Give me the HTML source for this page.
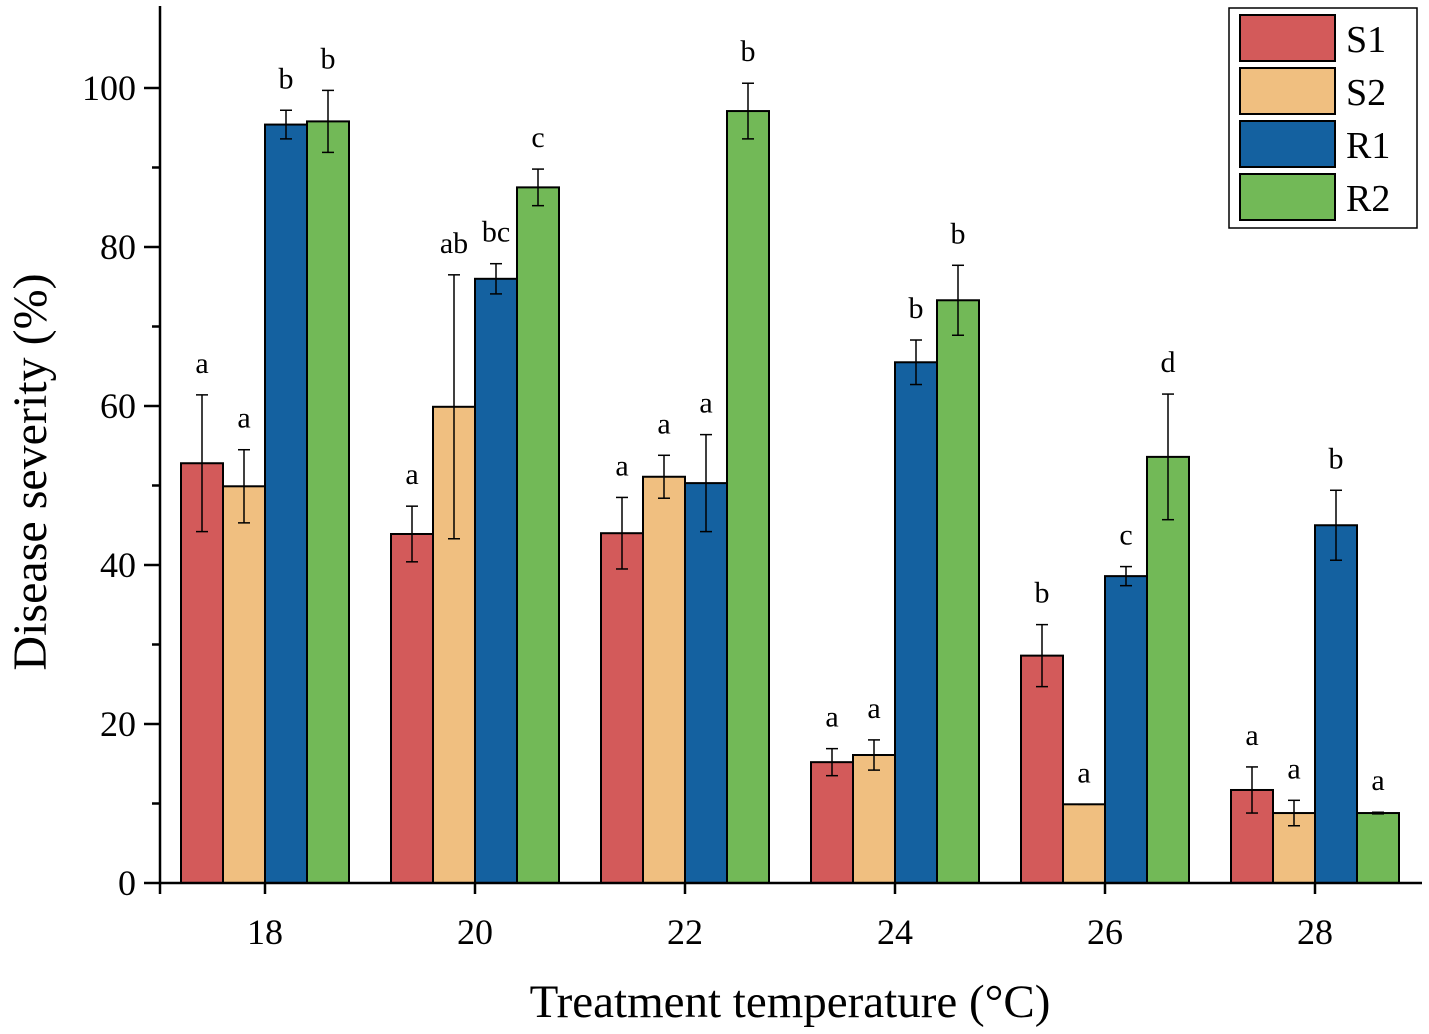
<!DOCTYPE html>
<html><head><meta charset="utf-8"><style>body{margin:0;background:#fff}svg{display:block}text{font-family:"Liberation Serif",serif;fill:#000}</style></head>
<body>
<svg id="chart" width="1429" height="1034">
<g id="bars"></g>
<g id="axes"></g>
</svg>
<script>
const categories=["18","20","22","24","26","28"];
const seriesNames=["S1","S2","R1","R2"];
const seriesColors=["#d35a5a","#f0bf80","#1461a0","#72b957"];
const S1=[52.8,43.9,44.0,15.2,28.6,11.7];
const S2=[49.9,59.9,51.1,16.1,9.9,8.8];
const R1=[95.4,76.0,50.3,65.5,38.6,45.0];
const R2=[95.8,87.5,97.1,73.3,53.6,8.8];
const S1err=[8.6,3.5,4.5,1.7,3.9,2.9];
const S2err=[4.6,16.6,2.7,1.9,0,1.6];
const R1err=[1.8,1.9,6.1,2.8,1.2,4.4];
const R2err=[3.9,2.3,3.5,4.4,7.9,0.1];
const S1let=["a","a","a","a","b","a"];
const S2let=["a","ab","a","a","a","a"];
const R1let=["b","bc","a","b","c","b"];
const R2let=["b","c","b","b","d","a"];
const yTicks=[0,20,40,60,80,100];
const values=[S1,S2,R1,R2], errs=[S1err,S2err,R1err,R2err], lets=[S1let,S2let,R1let,R2let];
const NS="http://www.w3.org/2000/svg";
const x0=160,y0=883,yScale=(883-88)/100;
const y=v=>y0-v*yScale;
const xc=i=>265+i*210;
const bw=42;
function mk(tag,attrs,parent,txt){const e=document.createElementNS(NS,tag);for(const k in attrs)e.setAttribute(k,attrs[k]);if(txt!==undefined)e.textContent=txt;parent.appendChild(e);return e;}
const bars=document.getElementById('bars'),axes=document.getElementById('axes');
categories.forEach((c,i)=>{
 values.forEach((arr,s)=>{
  const v=arr[i],bx=xc(i)-84+s*bw;
  const r=mk('rect',{x:bx,y:y(v),width:bw,height:y0-y(v),fill:seriesColors[s],stroke:'#000','stroke-width':2},bars);
  
  
  const e=errs[s][i],cx=bx+bw/2;
  const g=mk('g',{stroke:'#000','stroke-width':1.5},bars);
  
  
  mk('line',{x1:cx,x2:cx,y1:y(v+e),y2:y(v-e)},g);
  mk('line',{x1:cx-6,x2:cx+6,y1:y(v+e),y2:y(v+e)},g);
  mk('line',{x1:cx-6,x2:cx+6,y1:y(v-e),y2:y(v-e)},g);
  const t=mk('text',{x:cx,y:y(v+e)-22,'text-anchor':'middle','font-size':30},bars,lets[s][i]);
  
  
 });
 mk('line',{x1:xc(i),x2:xc(i),y1:y0,y2:y0+11,stroke:'#000','stroke-width':2.5},axes);
 const tl=mk('text',{x:xc(i),y:944,'text-anchor':'middle','font-size':36},axes,c);
 
 
});
mk('line',{x1:x0,x2:x0,y1:y0+11,y2:y0,stroke:'#000','stroke-width':2.5},axes);
const ya=mk('line',{x1:x0,x2:x0,y1:6,y2:y0+1,stroke:'#000','stroke-width':2.5},axes);

const xa=mk('line',{x1:x0-1,x2:1422,y1:y0,y2:y0,stroke:'#000','stroke-width':2.5},axes);

yTicks.forEach(v=>{
 mk('line',{x1:x0-16,x2:x0,y1:y(v),y2:y(v),stroke:'#000','stroke-width':2.5},axes);
 if(v<100)mk('line',{x1:x0-8,x2:x0,y1:y(v+10),y2:y(v+10),stroke:'#000','stroke-width':2.5},axes);
 const t=mk('text',{x:x0-24,y:y(v)+12,'text-anchor':'end','font-size':36},axes,v);
 
});
const yt=mk('text',{x:0,y:0,transform:'translate(46,472) rotate(-90)','text-anchor':'middle','font-size':48},axes,'Disease severity (%)');

const xt=mk('text',{x:790,y:1017,'text-anchor':'middle','font-size':47},axes,'Treatment temperature (°C)');

const lg=mk('g',{},axes);

mk('rect',{x:1229,y:8,width:188,height:220,fill:'#fff',stroke:'#000','stroke-width':1.5},lg);
seriesNames.forEach((n,s)=>{
 const ey=15+s*53;
 const e=mk('g',{},lg);
 
 mk('rect',{x:1240,y:ey,width:95,height:46,fill:seriesColors[s],stroke:'#000','stroke-width':2},e);
 mk('text',{x:1346,y:ey+37,'font-size':38},e,n);
});
</script>
</body></html>
